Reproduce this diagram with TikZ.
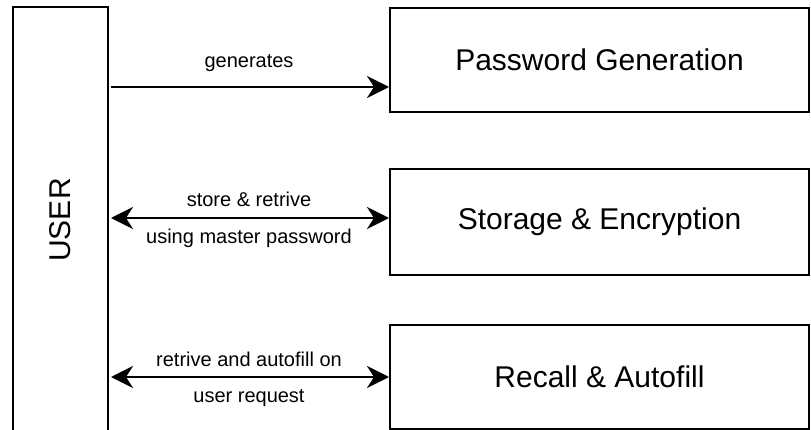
\documentclass[tikz,border=0pt]{standalone}
\usepackage{fontspec}
\setmainfont{Liberation Sans}
\usetikzlibrary{arrows.meta}

\begin{document}
\begin{tikzpicture}[x=1pt, y=-1pt,
    >={Stealth[length=22pt,width=22pt,inset=7pt]},
    box/.style={draw, line width=2pt, inner sep=0pt, font=\fontsize{30}{36}\selectfont},
    link/.style={line width=2.5pt, shorten <=2pt},
    lbl/.style={font=\fontsize{20}{24}\selectfont, inner sep=0pt, anchor=base}]

    % Fix the frame of the picture
    \useasboundingbox (0,0) rectangle (811,430);
    \clip (0,0) rectangle (811,430);

    % Draw the user column
    \node[box, minimum width=95pt, minimum height=426pt] (user) at (60.5,220) {\rotatebox{90}{USER}};

    % Draw the three modules
    \node[box, minimum width=419pt, minimum height=104pt] (pwgen) at (599.5,60) {Password Generation};
    \node[box, minimum width=419pt, minimum height=106pt] (store) at (599.5,222) {Storage \& Encryption};
    \node[box, minimum width=419pt, minimum height=104pt] (recall) at (599.5,377) {Recall \& Autofill};

    % Entry points on the modules
    \coordinate (pwgenin) at ([yshift=-27pt]pwgen.west);
    \coordinate (storein) at ([yshift=4pt]store.west);

    % Draw the links
    \draw[link, ->] (user.east |- pwgenin) -- node[lbl, yshift=19pt] {generates} (pwgenin);
    \draw[link, <->] (user.east |- storein) -- node[lbl, yshift=11pt] {store \& retrive}
        node[lbl, yshift=-26pt] {using master password} (storein);
    \draw[link, <->] (user.east |- recall.west) -- node[lbl, yshift=11pt] {retrive and autofill on}
        node[lbl, yshift=-25pt] {user request} (recall.west);
\end{tikzpicture}
\end{document}
